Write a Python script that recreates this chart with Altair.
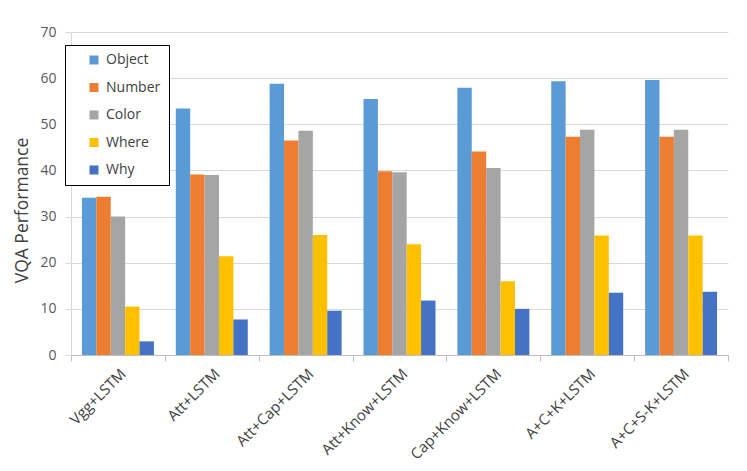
import altair as alt
import pandas as pd

models = ["Vgg+LSTM", "Att+LSTM", "Att+Cap+LSTM", "Att+Know+LSTM",
          "Cap+Know+LSTM", "A+C+K+LSTM", "A+C+S-K+LSTM"]
categories = ["Object", "Number", "Color", "Where", "Why"]
colors = ["#5B9BD5", "#ED7D31", "#A5A5A5", "#FFC000", "#4472C4"]

object_vals = [34.1, 53.4, 58.8, 55.5, 57.9, 59.35, 59.6]
number_vals = [34.3, 39.1, 46.5, 39.8, 44.1, 47.3, 47.3]
color_vals = [30.0, 39.0, 48.6, 39.6, 40.5, 48.8, 48.8]
where_vals = [10.5, 21.4, 26.0, 24.0, 16.0, 25.9, 25.9]
why_vals = [2.95, 7.7, 9.6, 11.8, 10.0, 13.5, 13.7]

series = [object_vals, number_vals, color_vals, where_vals, why_vals]
rows = []
for cat, vals in zip(categories, series):
    for m, v in zip(models, vals):
        rows.append({"Model": m, "Category": cat, "Value": v})
df = pd.DataFrame(rows)

FONT = "Open Sans"

chart = alt.Chart(df).mark_bar().encode(
    x=alt.X("Model:N", sort=models,
            scale=alt.Scale(paddingInner=0, paddingOuter=0),
            axis=alt.Axis(title=None, labelAngle=-45, labelFontSize=15,
                          labelFont=FONT, labelColor="#404040", labelLimit=300,
                          tickBand="extent", tickSize=6, tickColor="#BFBFBF",
                          domainColor="#BFBFBF", labelPadding=5, grid=False)),
    xOffset=alt.XOffset("Category:N", sort=categories,
                        scale=alt.Scale(paddingInner=0, paddingOuter=0.76)),
    y=alt.Y("Value:Q",
            scale=alt.Scale(domain=[0, 70], nice=False),
            axis=alt.Axis(title="VQA Performance", values=list(range(0, 71, 10)),
                          titleFont=FONT, titleFontSize=17.5, titleFontWeight="normal",
                          titleColor="#404040", titlePadding=8, titleY=178,
                          labelFont=FONT, labelFontSize=14, labelColor="#595959",
                          labelPadding=9, tickSize=6, tickColor="#D9D9D9",
                          domainColor="#D9D9D9", gridColor="#D9D9D9")),
    color=alt.Color("Category:N", sort=categories,
                    scale=alt.Scale(domain=categories, range=colors),
                    legend=alt.Legend(title=None, orient="none",
                                      legendX=-6, legendY=13)),
).properties(
    width=657, height=323,
    autosize=alt.AutoSizeParams(type="none"),
    padding={"left": 63, "top": 24, "right": 10, "bottom": 112},
).configure_view(stroke=None).configure_legend(
    symbolType="square", symbolSize=81, symbolStrokeWidth=0,
    labelFont=FONT, labelFontSize=14, labelColor="#404040",
    padding=8, rowPadding=13.5, symbolOffset=14, labelOffset=5,
    strokeColor="#000000", fillColor="#FFFFFF",
)

chart.save("out.html", embed_options={"renderer": "svg", "actions": False})
